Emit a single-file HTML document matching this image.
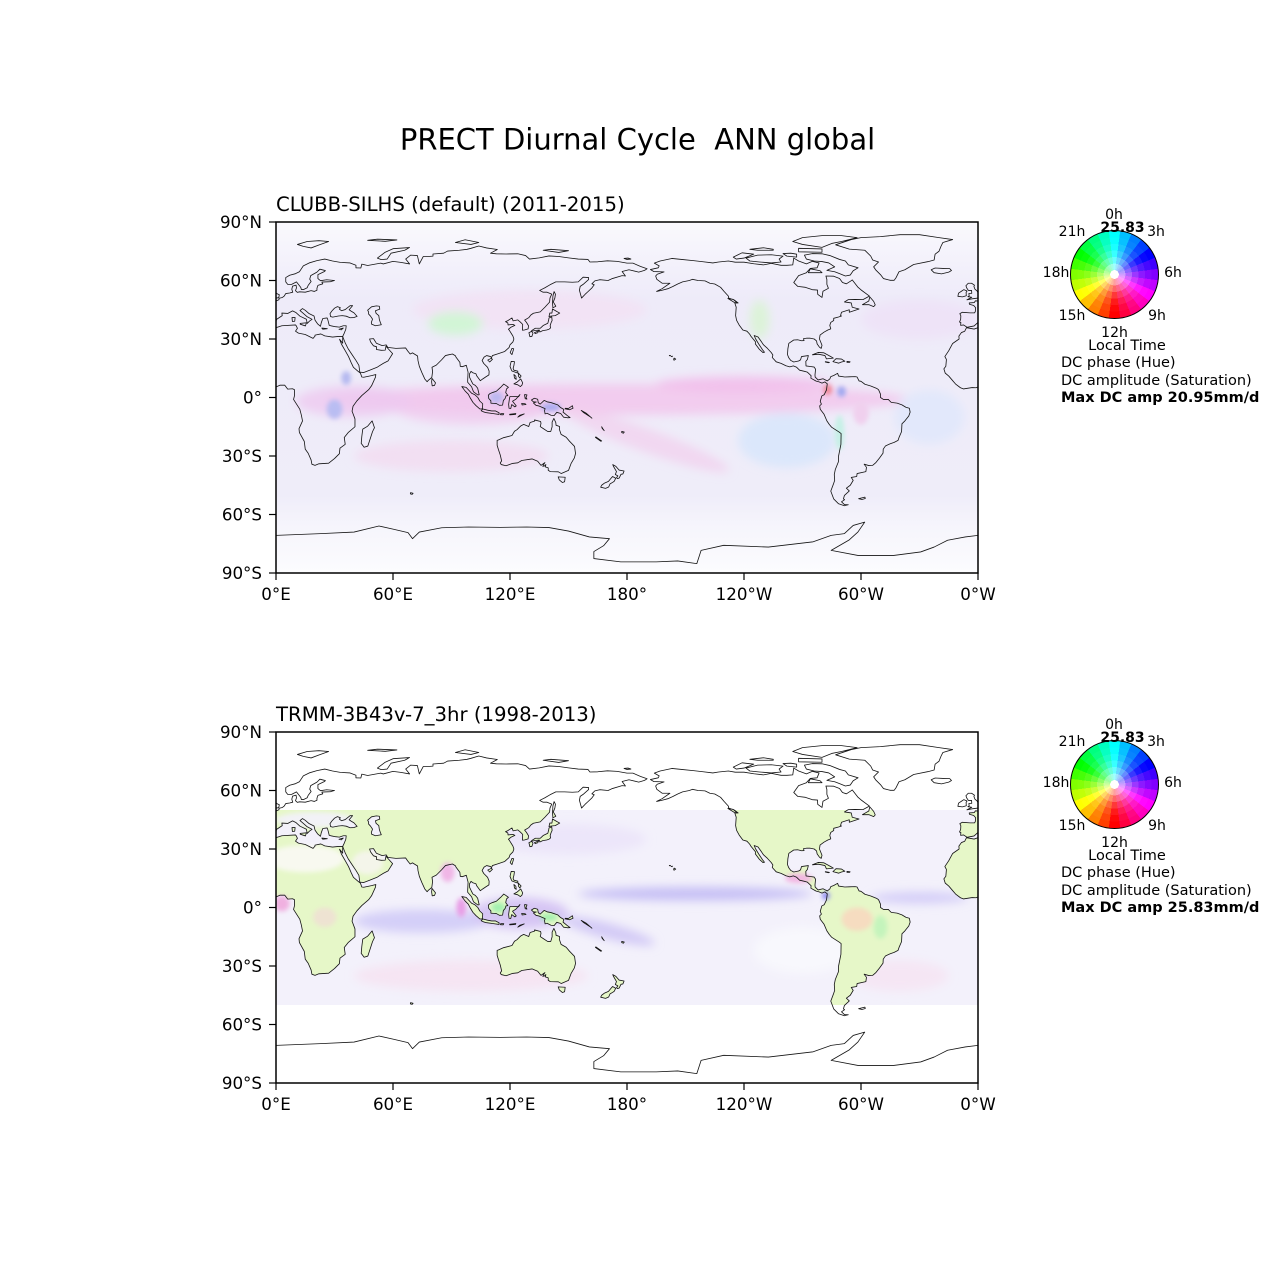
<!DOCTYPE html>
<html><head><meta charset="utf-8">
<style>
html,body{margin:0;padding:0;background:#fff;}
#wrap{position:relative;width:1275px;height:1275px;overflow:hidden;background:#fff;}
svg text{font-family:"DejaVu Sans","Liberation Sans",sans-serif;fill:#000;}
.wheel{position:absolute;width:89px;height:89px;border-radius:50%;box-sizing:border-box;border:1.5px solid #000;
background:radial-gradient(closest-side,rgba(255,255,255,1) 0 10%,rgba(255,255,255,0.62) 10% 25%,rgba(255,255,255,0.4) 25% 40%,rgba(255,255,255,0.22) 40% 55%,rgba(255,255,255,0.1) 55% 70%,rgba(255,255,255,0.03) 70% 85%,rgba(255,255,255,0) 85%),
conic-gradient(from -7.5deg,hsl(180,100%,50%) 0 15deg,hsl(195,100%,50%) 15deg 30deg,hsl(210,100%,50%) 30deg 45deg,hsl(225,100%,50%) 45deg 60deg,hsl(240,100%,50%) 60deg 75deg,hsl(255,100%,50%) 75deg 90deg,hsl(270,100%,50%) 90deg 105deg,hsl(285,100%,50%) 105deg 120deg,hsl(300,100%,50%) 120deg 135deg,hsl(315,100%,50%) 135deg 150deg,hsl(330,100%,50%) 150deg 165deg,hsl(345,100%,50%) 165deg 180deg,hsl(0,100%,50%) 180deg 195deg,hsl(15,100%,50%) 195deg 210deg,hsl(30,100%,50%) 210deg 225deg,hsl(45,100%,50%) 225deg 240deg,hsl(60,100%,50%) 240deg 255deg,hsl(75,100%,50%) 255deg 270deg,hsl(90,100%,50%) 270deg 285deg,hsl(105,100%,50%) 285deg 300deg,hsl(120,100%,50%) 300deg 315deg,hsl(135,100%,50%) 315deg 330deg,hsl(150,100%,50%) 330deg 345deg,hsl(165,100%,50%) 345deg 360deg);}
.dot{position:absolute;width:6px;height:6px;border-radius:50%;background:#fff;}
</style></head><body><div id="wrap">
<svg width="1275" height="1275" viewBox="0 0 1275 1275" xmlns="http://www.w3.org/2000/svg" style="position:absolute;left:0;top:0">
<defs>
<filter id="bl" x="-30%" y="-30%" width="160%" height="160%"><feGaussianBlur stdDeviation="2.5"/></filter>
<filter id="bl2" x="-30%" y="-30%" width="160%" height="160%"><feGaussianBlur stdDeviation="1.2"/></filter>
<linearGradient id="polar" x1="0" y1="0" x2="0" y2="1">
<stop offset="0" stop-color="#faf9fd"/><stop offset="0.12" stop-color="#f3f1fb"/><stop offset="0.22" stop-color="#eeebf9"/>
<stop offset="0.78" stop-color="#efedf9"/><stop offset="0.87" stop-color="#f6f5fc"/><stop offset="1" stop-color="#fcfcfe"/>
</linearGradient>
<clipPath id="band"><rect x="0" y="40" width="360" height="100"/></clipPath>
<g id="land">
<path fill-rule="evenodd" d="M -5.6,36 L -2,36.7 0,38.5 0.2,40 3.2,42 3,43.3 6,43.1 8.5,44.4 10.3,43.5 12.3,41.7 15.6,40.1 16,38 17.2,39.2 18.5,40.1 16,41.4 13.6,43.5 12.3,44.6 13.6,45.6 15,44.7 17,43 19.5,41.8 20,39.7 21.3,37.8 22.8,36.5 23.2,38.3 24,40.5 26.2,40.8 26.5,40.1 26.8,39 27.3,37 28.5,36.7 30.5,36.3 32.5,36.1 34.5,36.8 36,36.8 35.8,35 35,33 34.2,31.3 34.9,29.5 35.5,28 37,25 39,22 41,19 42.5,16.5 43,13 45,12.8 48,14 52,15.6 55,17.5 57.5,18.8 59.8,22.5 58.8,23.6 56.4,26.3 56,24.3 54,24.2 51.5,24.6 51.6,26 50,26.5 48.5,28.5 48,30 50,30.2 51.5,27.8 54.5,26.6 56.5,27 57.3,25.7 61.5,25.2 66.5,25.4 67.5,23.9 68.8,22.3 70,22.9 72.6,21.3 72.8,19 73.5,16 74.8,12.8 76.3,9.5 77.5,8.1 78.2,8.9 79.9,10.3 80.3,13.3 80,15.5 82.2,16.6 84.9,19.3 86.9,21.5 88.5,21.9 90.5,22.3 92,21.4 92.3,20.7 94.3,18 94.5,16 95.5,15.8 97.6,16.5 98.5,13 98.3,9 98.3,7.8 100.3,5.5 101.3,2.9 103.5,1.3 104.2,1.4 103.4,4.8 102.2,6.2 101,6.9 100.2,8.4 99.3,10.3 99.2,12 100,13.4 100.9,12.7 102.5,12.2 103,11 104.8,8.6 106,9.5 107.5,10.5 109.2,11.6 109.3,13.5 108.5,15.5 106.5,17.5 105.7,19 106.7,20.7 108,21.5 110,21 110.5,20.4 111,21.5 113.5,22.3 115,22.8 117.3,23.6 119.5,25.6 120,27 121.5,28.5 122,30 121.5,31.5 121,32.3 119.7,34.4 119.2,35 120.6,36.1 122.5,37 121.5,37.5 119,37.2 118.9,38.2 117.7,38.9 118.5,39.2 121,40.8 121.6,39.3 124,39.8 125.3,38.7 126.5,37.5 126.4,34.5 127.4,34.6 129.3,35.2 129.5,36.8 128.4,38.6 127.5,39.7 129.7,41 130.7,42.3 132,43.2 135.5,43.9 138,46.4 140.3,48.9 140.5,51 141.4,53 139,54 137,54 135.2,54.9 137.8,56.2 140.5,57.8 143.5,59.3 148,59.3 152,59.1 155,59.3 157.5,61.7 160.3,61.5 160.3,60.5 157.5,58 156,57 155.6,55 156.7,51 158.5,52.9 160,54.3 162,56.2 163.2,57.8 162,58.3 163.5,59.8 166,60.4 170.3,60 172.5,61 177.5,62.5 179.2,62.3 177.5,64.6 181,65.5 186,64.3 189,65.2 190.3,66 187,67.2 183,68.9 180,68.9 175,69.8 170,70.1 165,69.6 161,69.5 160,70.8 155,71 150,71.6 145,72.3 140,72.6 135,71.6 130,71 128,72.8 124,73.7 118,73.6 113,73.7 110,74 113.5,75.9 108,76.7 104,77.7 100,76.5 98,76 94,75.5 88,75.1 86,74 80.5,73.6 80.5,72.5 78,72.3 75.5,72.3 73.5,68.5 72.5,72.8 69,73 66.5,71 68.5,68.5 64,69.3 60,69.8 55,68.5 53.7,68.9 47,67.7 44,68.4 43.5,66.4 41,66.5 41,67.8 38,69 33,69.3 29,70 25,71 21,70.2 17,69 14,67.5 13,66 12,64.5 10,63.5 7,62.7 5,61.5 5,59.3 6,58 8,58 10.5,59.3 11.5,58 12.7,56.5 13,55.4 14.2,55.4 16,56.3 16.5,57.5 18,59.5 17.3,60.7 17.8,62.5 21,64.3 22.5,65.8 25.3,65.1 25,64.7 21.5,63 21.5,61 22.8,59.9 26,60.4 30,60 28,59.4 23.5,59.2 24,58.3 21.5,57.5 21,56 21,55 19.7,54.4 18,54.8 15,54 12,54.2 11,53.9 10,54.8 10.5,56.2 10.3,57.6 8.5,57.1 8.1,55.5 8.6,54 7,53.6 5,53.3 4.2,52 3.3,51.3 1.6,50.9 1.5,50.1 0,49.5 -1.3,49.6 -1.9,48.7 -4.5,48.5 -4.4,47.8 -2.2,47.2 -1.2,46 -1.4,44 -1.8,43.4 -4,43.4 -8,43.7 -9.3,43 -8.8,41.9 -8.9,40 -9.5,38.7 -8.8,38.5 -8.9,37 -7.4,37.2 -6.2,36.4 Z
M 28,41.5 L 27.7,43 28.6,44.3 30,45.8 31.5,46.6 33,46 32.5,45.3 33.6,44.5 35.5,45.1 38,47.1 39.3,47.1 37.5,45 38.5,44.3 40,43.4 41.6,41.6 40,41 38,40.9 36,41.7 34,42 32,41.8 29.1,41.2 Z
M 47,44.8 L 49,46.5 51.5,47 53,46.8 53.2,45.3 51,44.5 51.3,43.2 52.7,42 53,40 53.5,38.5 54,37.3 51,36.8 49,37.6 48.9,38.5 49.5,40.2 48.5,41.7 47.5,42.8 47.5,43.8 Z"/>
<path d="M -5.9,35.8 L -2,35.1 3,36.8 10,37.2 10.3,36.9 11,35.5 10,34 11.5,33 15,32.3 19,30.3 20,31.5 20,32 23,32.6 25,31.6 29,31 32,31.3 34.2,31.3 34.2,27.8 32.6,29.9 33.6,27.3 35.5,24 37.2,21 38.5,18 39.7,15.5 42,13.5 43.3,12.5 44,10.5 45,10.4 49,11.2 51.2,11.8 51,10.4 49,6 47.5,4 44,1 41.5,-1.7 39.5,-4.5 39,-7 40.5,-11 40.5,-15 37,-18 35,-20.5 35.5,-24 32.8,-26 32.5,-28.8 30,-31.3 27,-33.7 22,-34 20,-34.8 18.4,-34.2 18,-32 16.5,-28.6 15,-26.5 14.5,-22.5 12,-18 11.8,-16 13.6,-12 13,-9 12.2,-6 9,-1 9.5,1 9.5,4 8.5,4.5 6,4.3 4.5,6.3 2,6.3 -1,5 -3,5.1 -7.5,4.4 -9,5 -11.5,6.9 -13.3,9 -15,11 -16.8,12.5 -17.5,14.7 -16.5,16 -16.2,19.5 -17,21 -15,24 -13,27.7 -9.7,30 -9.8,31.5 -8.5,33.3 -6.8,34 Z"/>
<path d="M -5.7,50.1 L -3,50.6 1.4,51.2 1.7,52.7 0.2,53.4 -0.4,54.5 -1.6,55.6 -2.1,57 -1.8,57.6 -3.3,58.6 -5,58.6 -6.2,57.3 -5.7,56 -4.9,54.9 -3.3,54.9 -3.2,53.4 -4.7,53.3 -4.5,52.1 -5.2,51.7 -3.2,51.4 Z
M -6,52.2 L -6.1,53.9 -5.6,54.6 -7.3,55.3 -8.5,54.5 -10,53.5 -10.3,51.9 -8,51.6 Z
M -22.5,64 L -24,65.5 -22,66.4 -18,66.2 -14.5,66.1 -13.6,65.1 -15,64.3 -18.7,63.4 Z
M 80,9.8 L 81.8,7.5 81.3,6.2 80.1,6 79.8,8 Z
M 49.3,-12 L 50.5,-15.5 49.5,-17.5 47.1,-24.9 45.2,-25.5 43.7,-23.5 44,-20 44.5,-16.2 47,-14.7 Z
M 12.4,38 L 15.6,38.3 15.1,36.7 12.4,37.6 Z M 8.2,41 L 9.8,41 9.6,39.1 8.4,39 Z M 23.5,35.6 L 26.3,35.3 24,35 Z M 32.3,35 L 34.5,35.6 33.5,34.7 Z
M 11,78.5 L 16,80 22,80.4 27,80 22,78.2 18,76.7 14,77.5 Z
M 52,71.5 L 56,74.5 60,76.3 68.5,76.9 66,75.5 59,74 57,71 54,70.7 Z
M 92,79.5 L 97,80.9 104,79.5 100,78.5 Z
M 47,80.6 L 52,81.2 62,80.8 56,80.1 Z
M 137,75.5 L 141,76 150,75.3 145,74.4 Z
M 178.5,71.3 L 180.5,71.5 182,71 180,70.8 Z
M 130.9,33.9 L 132.5,34.3 135,34.6 135.3,33.6 136.8,34.3 138.8,34.6 140,35 140.8,35.7 140.6,36.8 141,38.2 141.6,39.5 141.4,41.4 140,40.8 139.8,39.6 139.4,38.1 137,36.9 135.5,35.5 133,35.5 131.2,34.4 Z
M 129.7,33.2 L 131,33.9 131.8,33 131.2,31.3 130.2,31.2 Z
M 140,41.5 L 141.2,41.8 143.2,42 145.5,43.3 144,44.1 141.8,45.4 141.5,43.3 140.4,43.3 Z
M 132.5,33.2 L 134.7,34.2 134.2,33.2 133,32.8 Z
M 142,46 L 143.5,46.8 142.2,49 143,51 143.3,53 142.6,54.3 142,52 141.8,48.5 Z
M 120.1,23 L 121,25.2 121.9,25 121,22 Z
M 108.6,19.2 L 110.4,20.1 111,19.6 109.6,18.2 Z
M 120.6,18.5 L 122.3,18.4 122,16.4 121.6,15 122,14 124,13.5 124,12.5 121,13.6 120.6,14.4 120,16 Z
M 122,7 L 123.6,7.9 124.3,8.5 125.5,9.5 126.5,7.5 126.1,6.3 125.3,5.6 124,6.5 Z
M 124.3,12.5 L 125.7,11 125,10 124.3,11 Z
M 122,11.8 L 123,10.9 123.2,9.3 122.3,10 Z
M 108.9,1.2 L 109.7,2 111.2,2.6 113,3.2 114.5,4.6 115.5,5.5 116.8,6.9 117.7,6.3 119.2,5.2 118.2,4.4 117.8,2.5 118.9,1 117.9,0.8 117.5,-0.5 116.6,-1.5 116.2,-3.9 114.6,-4 113,-3.1 111.7,-3 110.2,-2.9 110.2,-1.7 109.1,-0.5 Z
M 95.3,5.6 L 97.5,5.2 100.3,2.2 102,1.4 103.5,0 104.5,-1.8 106,-3.2 105.9,-5.8 104.6,-5.9 102.6,-4.2 101,-2.5 99.6,-0.2 98.6,1.7 97,3.3 Z
M 105.2,-6.8 L 106.1,-5.9 108.5,-6.5 110.6,-6.9 112.6,-6.9 114.4,-7.8 114.4,-8.7 111,-8.2 108,-7.8 106.5,-7.4 Z
M 119.5,-5.5 L 120.4,-5.6 120.9,-3.6 122.5,-4.8 123.2,-4.3 121.3,-1.9 123,-0.9 125.1,1.5 124.4,0.4 121,0.5 120,0.5 119.8,-0.1 119.3,-3.5 Z
M 124,-10.1 L 125,-9.1 127.3,-8.4 125.1,-9.5 Z
M 119.8,-8.6 L 123,-8.2 122.8,-8.7 119.9,-8.9 Z
M 115.2,-8.3 L 116.8,-8.3 116.5,-8.9 115.1,-8.8 Z
M 127.5,1.5 L 128.7,1.3 128.2,0 128.7,-0.8 127.8,-0.6 127.5,1 Z
M 126,-3 L 127.8,-3.2 128.2,-3.6 126.2,-3.8 Z
M 131,-1.3 L 132.5,-0.4 134.2,-0.9 134.5,-2.7 135.5,-3.4 137.5,-1.5 139,-2.2 141,-2.6 144.5,-3.8 146,-5.2 147.6,-6.1 147.2,-7.5 149.3,-9.2 150.8,-10.3 149.5,-10.4 147.5,-10.1 146,-8.2 144,-7.6 142.6,-9.3 141,-9.1 139,-8.1 138,-8.4 137.7,-6.7 138,-5.7 135,-4.4 133.3,-4 132,-2.8 133.5,-2.3 132,-2.2 Z
M 148.3,-5.5 L 150,-5.6 152,-4.2 152.3,-5.5 150.5,-6.3 148.3,-5.8 Z
M 156.5,-6.6 L 159,-8 162,-10.6 161,-9.8 157.8,-7.8 Z
M 167,-15 L 167.8,-16.3 168.3,-17 167.3,-15.9 Z
M 177.3,-17.4 L 178.6,-17.7 178.2,-18.3 177.3,-18 Z
M 164,-20.2 L 167,-22.3 166.5,-22.4 163.8,-20.5 Z
M 69,-48.8 L 70.3,-49.1 69.8,-49.7 68.9,-49.4 Z
M 113.4,-22 L 114,-21.8 116.7,-20.6 121,-19.5 122.3,-17.3 123.6,-16.5 125.5,-14.6 127,-13.8 129.6,-14.9 130.3,-12.8 132.6,-12.1 132.6,-11.5 135.7,-12.3 135.9,-13.3 135.5,-14.9 137,-15.9 139.3,-17.4 140.9,-17.4 141.6,-15 141.6,-12.6 142.5,-10.7 143.5,-12.9 143.6,-14.2 145.4,-14.9 145.3,-16.3 146.2,-18.9 148.8,-20.4 150.5,-22.4 153.1,-25.1 153.6,-28.7 153,-31 151.3,-33.9 150,-37.4 146.3,-39 144.8,-38.1 140.6,-38 139.6,-37.3 139.6,-36.1 138.1,-35.6 138.4,-34.4 137.7,-35.1 136.8,-35.3 137.5,-34 137.9,-33.4 135.9,-34.8 134.2,-32.7 131.3,-31.5 126,-32.3 124,-33.5 121.3,-33.8 118,-35 115.5,-34.4 115,-33.6 115.7,-32.5 115,-29.5 114,-26.5 113.4,-24.5 Z
M 144.7,-40.7 L 148.3,-40.9 148,-43.2 146.9,-43.6 145.3,-42.3 Z
M 172.7,-34.4 L 174.3,-35.3 175.9,-37.2 178.5,-37.7 177.9,-39.2 176.9,-39.4 176,-41.3 175.2,-41.6 174.6,-41.2 175.3,-40.2 174,-39.5 174.6,-38 173,-35.2 Z
M 172.6,-40.5 L 174.2,-41.4 173.5,-42.9 172.7,-43.5 171.3,-44.3 170.6,-45.9 169,-46.6 166.5,-46 167,-45 168.3,-44 170.5,-43 171.5,-41.8 Z"/>
<path d="M -166,68.9 L -163,70 -157,71.3 -152,70.8 -146,70.2 -141,69.6 -136,69 -133,69.5 -128,70 -124.5,69.4 -120,69.4 -115,68.6 -110,68 -106,68.8 -101,67.8 -98,67.8 -95,68 -94.5,71.5 -92,70 -88,68.5 -85,69.8 -81.5,69 -82.5,66.5 -86,66.2 -88,64 -92,62.5 -94.5,59 -92.5,57 -88.5,56.5 -85,55.3 -82.3,55.1 -82.2,52.9 -80,51.3 -79.5,54.5 -76.7,56 -77.5,58 -77.5,60.5 -78,62.3 -74,62.2 -71,61 -69.5,59 -67.5,58.3 -65,59.9 -64.5,60.3 -61.5,56.5 -60,55.2 -57,53 -55.7,52 -59,50.2 -63,50.3 -66.5,50.2 -68.5,49 -65,48.5 -64.5,46.3 -61,45.4 -66,43.7 -66,45 -67,44.7 -70,43.7 -70.5,42 -70,41.8 -71.5,41.3 -74,40.6 -74,39.5 -75.5,38.5 -76,37 -75.5,35.2 -77,34.6 -79,33.5 -81,32 -81.3,30 -80,26.8 -80.4,25.2 -81.3,25.8 -82.5,27.5 -82.8,29 -84,30 -86,30.4 -88,30.4 -89.5,30.2 -89.2,29.2 -90.5,29.1 -92.5,29.6 -94.5,29.5 -97,27.8 -97.5,25 -97.7,22 -97,20.3 -96,19 -94.5,18.2 -92,18.7 -91,19.3 -90.5,21 -87,21.5 -87.5,19.5 -88.3,18.5 -88.2,16.2 -86,15.9 -84,15.6 -83.3,14.5 -83.6,11.5 -83.5,10.5 -82,9 -79.5,9.6 -77.3,8.5 -76,9.5 -75.5,10.7 -74,11.3 -72,12.4 -71.5,11 -68.3,10.5 -66,10.6 -63,10.7 -62,10.5 -61,8.5 -60,8.3 -58,6.8 -55,5.9 -52,4.7 -51,4 -50,1.7 -50,0 -48.5,-1 -46,-1 -44.5,-2.5 -41.5,-2.9 -39,-3.8 -37,-5 -35.2,-5.5 -34.8,-7.5 -35.5,-9.5 -37.5,-12 -39,-13.5 -39.2,-17.5 -40.5,-20.5 -41,-22 -43,-23 -45,-23.7 -47.5,-24.9 -48.6,-26.5 -48.7,-28.5 -50.5,-31 -52.5,-33.5 -54,-34.8 -56,-34.9 -58.4,-34.2 -57.2,-35.8 -57.5,-38 -62,-39 -62.2,-40.5 -65,-41 -64,-42.5 -65.5,-45 -67.5,-46.5 -66,-47.9 -68.5,-50.2 -69,-52 -68.4,-52.4 -70,-53.5 -68.5,-54.9 -66.5,-55 -68.5,-55.5 -71.5,-54.5 -74,-52 -75.5,-48 -74,-44 -73.5,-42.5 -73.7,-39.5 -73.2,-37 -71.6,-33 -71.5,-30 -70.3,-24 -70.2,-18.5 -71.4,-17.6 -75,-15.3 -76.2,-13.9 -77.5,-12 -79,-8.5 -80.9,-6 -81.2,-4.3 -80.3,-3.4 -80.9,-2 -80.1,0.8 -78.9,1.4 -77.7,3.9 -77.3,7 -78.5,8 -80,7.4 -81.5,8 -83,8.4 -85.7,9.9 -85.6,11.2 -87.5,13 -89.3,13.5 -91.5,14 -93,15.5 -94.7,16.2 -96.5,15.7 -98.5,16.3 -101,17.5 -103.5,18.3 -105.5,20.5 -105.2,21.8 -106,23 -108,25.2 -110,27 -111,28.5 -112.8,31 -114.8,31.8 -114,30 -112.5,27.5 -110.5,24.5 -109.5,23.2 -110.2,23 -112.2,24.8 -114.2,27.5 -114.1,28.5 -116.5,31.5 -117.1,32.5 -118.5,34 -120.6,34.6 -122.5,37.2 -123.8,39.6 -124.3,42 -124,46.3 -124.7,48.4 -123,48.5 -125,50 -127.9,51 -128,52 -130.3,54.5 -132,56.5 -135,58.2 -137.5,58.6 -140,59.8 -143.5,60 -146.5,60.6 -148,60 -151.5,59.3 -154,58.2 -156.5,56.9 -159,55.8 -162,55 -164.8,54.4 -162,55.8 -158,58.6 -162,58.6 -164.7,60.6 -165.3,62.3 -164.5,63.2 -161,64.4 -163,64.5 -166.3,64.6 -168,65.6 -164,66.5 -163.5,67.5 Z
M -73,78.3 L -66,76.1 -58,75.5 -55,72.5 -54,70.5 -51,69.5 -53.5,67 -52.5,65.5 -50,63 -48.5,61 -45,60.1 -43,60.1 -42,61.5 -40.5,64.5 -37.5,65.5 -33,68.2 -25.5,69.7 -22.5,70.5 -22,73.5 -20,75 -19,77.5 -18,79.5 -13,81 -20,82 -30,83.5 -40,83.5 -50,82.5 -60,82 -65,81 -71,79 Z
M -80,73.7 L -76,72.8 -71,70.8 -68,70 -66.5,68 -61.5,66.5 -64,65 -65.5,62.8 -68,62.3 -71,63.5 -73.5,64.5 -77.5,65.2 -73.5,67 -76.5,69 -80,69.7 -84,70 -88,71 -89,73 -85,73.8 Z
M -80,77 L -75,79 -70,80 -62,82 -70,83 -80,83 -90,82 -95,80 -90,78.5 Z
M -80,74.5 L -92,74.7 -92,76.5 -80,76.2 Z
M -100,72.5 L -106,73.2 -113,73 -119,71.5 -117,70 -112,69.5 -106,69 -101,69.5 -102,71 Z
M -120,71.5 L -115,73.5 -121,74.2 -125.5,72 -124,71 Z
M -80,64 L -87,64 -86,66 -81,65 Z
M -93,72 L -98,72.5 -100,73.8 -96,74 -93,73.5 Z
M -105,75.5 L -113,75.5 -117,76 -110,76.8 -105,76 Z
M -59.3,47.6 L -56,49.5 -55.5,51.6 -53.5,49.3 -52.7,47.5 -53.5,46.6 -56,47.6 Z
M -84.9,21.9 L -82,23.1 -79,22.9 -75.7,21.1 -74.2,20.2 -77.7,19.8 -78.5,21.5 -81.8,22.2 Z
M -74.4,18.4 L -72.8,19.9 -70,19.7 -68.3,18.6 -70,18.2 -71.4,17.6 Z
M -78.3,18.4 L -76.2,18 -76.8,17.8 -78.3,18.2 Z
M -67.2,18.5 L -65.6,18.3 -65.9,18 -67.2,18 Z
M -128.3,50.8 L -125.5,50.3 -123.4,48.4 -125,48.8 Z
M -155.9,19.1 L -155,19.7 -155.8,20.2 -156.1,19.7 Z M -157.3,21.1 L -156.7,21.2 -156.9,20.9 Z M -158.3,21.6 L -157.7,21.6 -157.9,21.3 Z
M -61.2,-51.9 L -58,-51.1 -57.8,-51.8 -59.5,-52.3 Z
M 0,-70.7 L 23,-69.8 40,-69 52.8,-65.9 60,-67.5 67.7,-69.3 70,-72.4 73.5,-69 85,-66.8 98.7,-66.4 115,-66.6 128.6,-66.4 140,-66.7 150,-68.5 160.7,-71.5 171,-72.4 168,-76 163,-79 163,-82.6 176.8,-84.3 195,-84.3 206,-83.8 215.8,-85.2 218,-78.4 229.6,-75.8 252.5,-76.7 275.5,-74 284.7,-70.7 291.5,-69.8 296,-65.6 301.9,-63.9 298.4,-69 294,-73 284.7,-78.4 298.4,-81 316.8,-81 330.6,-79.2 337.5,-76.7 344.4,-73.2 353.5,-71.5 360,-70.7 360,-90 0,-90 Z"/>
</g>
</defs>

<text x="637.5" y="149.5" font-size="29" text-anchor="middle" xml:space="preserve" style="white-space:pre">PRECT Diurnal Cycle  ANN global</text>

<!-- ============ TOP MAP ============ -->
<text x="276" y="211" font-size="19.7">CLUBB-SILHS (default) (2011-2015)</text>
<svg x="276" y="222" width="702" height="351" viewBox="0 0 360 180" overflow="hidden">
<rect width="360" height="180" fill="url(#polar)"/>
<g filter="url(#bl)">
<ellipse cx="130" cy="45" rx="60" ry="10" fill="#f4e0f3" opacity="0.7"/>
<ellipse cx="330" cy="50" rx="30" ry="10" fill="#eee0f6" opacity="0.7"/>
<ellipse cx="175" cy="91" rx="150" ry="8" fill="#f3c4ec" opacity="0.8"/>
<ellipse cx="100" cy="95" rx="40" ry="9" fill="#f1c8ee" opacity="0.7"/>
<ellipse cx="40" cy="92" rx="30" ry="8" fill="#edc9f0" opacity="0.8"/>
<ellipse cx="240" cy="83" rx="45" ry="4" fill="#f2bdeb" opacity="0.85"/>
<ellipse cx="190" cy="112" rx="45" ry="6" fill="#f2d0ee" opacity="0.75" transform="rotate(20 190 112)"/>
<ellipse cx="90" cy="120" rx="50" ry="8" fill="#f3d8f0" opacity="0.7"/>
<ellipse cx="262" cy="112" rx="25" ry="14" fill="#dbe7fb"/>
<ellipse cx="335" cy="100" rx="18" ry="14" fill="#e2e8fb"/>
<ellipse cx="92" cy="52" rx="14" ry="6" fill="#d2f5d6"/>
<ellipse cx="248" cy="50" rx="5" ry="10" fill="#dcf3d8"/>
</g>
<g filter="url(#bl2)">
<ellipse cx="30" cy="96" rx="4" ry="5" fill="#b9bdf2"/>
<ellipse cx="36" cy="80" rx="2.5" ry="3.5" fill="#b5b9f0"/>
<ellipse cx="113" cy="90" rx="3.5" ry="3" fill="#bcb8f0"/>
<ellipse cx="141" cy="95" rx="5" ry="2" fill="#a9aaf0"/>
<ellipse cx="283" cy="86" rx="2.2" ry="2.8" fill="#f08898"/>
<ellipse cx="290" cy="87" rx="2.2" ry="2.8" fill="#a0a8f0"/>
<ellipse cx="289" cy="108" rx="2.5" ry="9" fill="#c6f0e6"/>
<ellipse cx="300" cy="98" rx="4" ry="6" fill="#f0d0ee"/>
</g>
<g transform="matrix(1 0 0 -1 0 90)" fill="none" stroke="#151515" stroke-width="0.42" stroke-linejoin="round">
<use href="#land"/><use href="#land" x="360"/>
</g>
</svg>
<rect x="276" y="222" width="702" height="351" fill="none" stroke="#000" stroke-width="1.5"/>
<g stroke="#000" stroke-width="1.2">
<line x1="269" y1="222" x2="276" y2="222"/><line x1="269" y1="280.5" x2="276" y2="280.5"/><line x1="269" y1="339" x2="276" y2="339"/><line x1="269" y1="397.5" x2="276" y2="397.5"/><line x1="269" y1="456" x2="276" y2="456"/><line x1="269" y1="514.5" x2="276" y2="514.5"/><line x1="269" y1="573" x2="276" y2="573"/>
<line x1="276" y1="573" x2="276" y2="580"/><line x1="393" y1="573" x2="393" y2="580"/><line x1="510" y1="573" x2="510" y2="580"/><line x1="627" y1="573" x2="627" y2="580"/><line x1="744" y1="573" x2="744" y2="580"/><line x1="861" y1="573" x2="861" y2="580"/><line x1="978" y1="573" x2="978" y2="580"/>
</g>
<g font-size="16.7" text-anchor="end">
<text x="262" y="228">90°N</text><text x="262" y="286.5">60°N</text><text x="262" y="345">30°N</text><text x="262" y="403.5">0°</text><text x="262" y="462">30°S</text><text x="262" y="520.5">60°S</text><text x="262" y="579">90°S</text>
</g>
<g font-size="16.7" text-anchor="middle">
<text x="276" y="600">0°E</text><text x="393" y="600">60°E</text><text x="510" y="600">120°E</text><text x="627" y="600">180°</text><text x="744" y="600">120°W</text><text x="861" y="600">60°W</text><text x="978" y="600">0°W</text>
</g>

<g font-size="14">
<text x="1114" y="219" text-anchor="middle">0h</text>
<text x="1072" y="236" text-anchor="middle">21h</text>
<text x="1156" y="236" text-anchor="middle">3h</text>
<text x="1056" y="277" text-anchor="middle">18h</text>
<text x="1173" y="277" text-anchor="middle">6h</text>
<text x="1072" y="320" text-anchor="middle">15h</text>
<text x="1157" y="320" text-anchor="middle">9h</text>
<text x="1114.5" y="337" text-anchor="middle">12h</text>
</g>
<g font-size="14.5">
<text x="1127" y="350" text-anchor="middle">Local Time</text>
<text x="1061" y="367">DC phase (Hue)</text>
<text x="1061" y="385">DC amplitude (Saturation)</text>
<text x="1061" y="402" font-weight="bold">Max DC amp 20.95mm/d</text>
</g>

<!-- ============ BOTTOM MAP ============ -->
<text x="276" y="721" font-size="19.7">TRMM-3B43v-7_3hr (1998-2013)</text>
<svg x="276" y="732" width="702" height="351" viewBox="0 0 360 180" overflow="hidden">
<rect width="360" height="180" fill="#fff"/>
<g clip-path="url(#band)">
<rect x="0" y="40" width="360" height="100" fill="#f3f1fb"/>
<g filter="url(#bl)">
<ellipse cx="100" cy="125" rx="60" ry="8" fill="#f6e0f0" opacity="0.7"/>
<ellipse cx="320" cy="125" rx="25" ry="8" fill="#f6e0f0" opacity="0.6"/>
<ellipse cx="150" cy="55" rx="40" ry="8" fill="#ebe4fa" opacity="0.8"/>
<ellipse cx="215" cy="83" rx="60" ry="3.5" fill="#c6bff5"/>
<ellipse cx="75" cy="97" rx="35" ry="6" fill="#d4cff8"/>
<ellipse cx="125" cy="93" rx="25" ry="8" fill="#d6c5f4"/>
<ellipse cx="170" cy="102" rx="25" ry="4" fill="#d3caf6" transform="rotate(15 170 102)"/>
<ellipse cx="330" cy="85" rx="25" ry="3" fill="#d4cef8"/>
<ellipse cx="270" cy="112" rx="25" ry="12" fill="#f8f8fd"/>
</g>
<g transform="matrix(1 0 0 -1 0 90)" fill="#e6f7c8" stroke="none">
<use href="#land"/><use href="#land" x="360"/>
</g>
<g filter="url(#bl2)">
<ellipse cx="15" cy="65" rx="20" ry="7" fill="#f8f9f0"/>
<ellipse cx="47" cy="67" rx="8" ry="6" fill="#f4f5ea"/>
<ellipse cx="20" cy="45" rx="20" ry="4" fill="#f2f2f6"/>
<ellipse cx="25" cy="95" rx="6" ry="5" fill="#f4d6d8" opacity="0.6"/>
<ellipse cx="88" cy="72" rx="3.5" ry="5" fill="#f0b6e6"/>
<ellipse cx="95" cy="90" rx="2.5" ry="5" fill="#e89ee6"/>
<ellipse cx="3" cy="88" rx="4" ry="4" fill="#f0b0e0"/>
<ellipse cx="268" cy="75" rx="7" ry="2.5" fill="#f2b6e2"/>
<ellipse cx="282" cy="84" rx="2" ry="2" fill="#8a88f0"/>
<ellipse cx="114" cy="90" rx="3.5" ry="2.5" fill="#a0f0ae"/>
<ellipse cx="140" cy="95" rx="4.5" ry="1.8" fill="#a0f0ae"/>
<ellipse cx="298" cy="96" rx="8" ry="6" fill="#f6dcc0"/>
<ellipse cx="310" cy="100" rx="3.5" ry="6" fill="#c4f4bc"/>
</g>
</g>
<g transform="matrix(1 0 0 -1 0 90)" fill="none" stroke="#151515" stroke-width="0.42" stroke-linejoin="round">
<use href="#land"/><use href="#land" x="360"/>
</g>
</svg>
<rect x="276" y="732" width="702" height="351" fill="none" stroke="#000" stroke-width="1.5"/>
<g stroke="#000" stroke-width="1.2">
<line x1="269" y1="732" x2="276" y2="732"/><line x1="269" y1="790.5" x2="276" y2="790.5"/><line x1="269" y1="849" x2="276" y2="849"/><line x1="269" y1="907.5" x2="276" y2="907.5"/><line x1="269" y1="966" x2="276" y2="966"/><line x1="269" y1="1024.5" x2="276" y2="1024.5"/><line x1="269" y1="1083" x2="276" y2="1083"/>
<line x1="276" y1="1083" x2="276" y2="1090"/><line x1="393" y1="1083" x2="393" y2="1090"/><line x1="510" y1="1083" x2="510" y2="1090"/><line x1="627" y1="1083" x2="627" y2="1090"/><line x1="744" y1="1083" x2="744" y2="1090"/><line x1="861" y1="1083" x2="861" y2="1090"/><line x1="978" y1="1083" x2="978" y2="1090"/>
</g>
<g font-size="16.7" text-anchor="end">
<text x="262" y="738">90°N</text><text x="262" y="796.5">60°N</text><text x="262" y="855">30°N</text><text x="262" y="913.5">0°</text><text x="262" y="972">30°S</text><text x="262" y="1030.5">60°S</text><text x="262" y="1089">90°S</text>
</g>
<g font-size="16.7" text-anchor="middle">
<text x="276" y="1110">0°E</text><text x="393" y="1110">60°E</text><text x="510" y="1110">120°E</text><text x="627" y="1110">180°</text><text x="744" y="1110">120°W</text><text x="861" y="1110">60°W</text><text x="978" y="1110">0°W</text>
</g>

<g font-size="14">
<text x="1114" y="729" text-anchor="middle">0h</text>
<text x="1072" y="746" text-anchor="middle">21h</text>
<text x="1156" y="746" text-anchor="middle">3h</text>
<text x="1056" y="787" text-anchor="middle">18h</text>
<text x="1173" y="787" text-anchor="middle">6h</text>
<text x="1072" y="830" text-anchor="middle">15h</text>
<text x="1157" y="830" text-anchor="middle">9h</text>
<text x="1114.5" y="847" text-anchor="middle">12h</text>
</g>
<g font-size="14.5">
<text x="1127" y="860" text-anchor="middle">Local Time</text>
<text x="1061" y="877">DC phase (Hue)</text>
<text x="1061" y="895">DC amplitude (Saturation)</text>
<text x="1061" y="912" font-weight="bold">Max DC amp 25.83mm/d</text>
</g>
</svg>

<div class="wheel" style="left:1069.5px;top:229.5px"></div>
<div class="dot" style="left:1111px;top:271px"></div>
<div class="wheel" style="left:1069.5px;top:739.5px"></div>
<div class="dot" style="left:1111px;top:781px"></div>
<svg width="1275" height="1275" style="position:absolute;left:0;top:0;pointer-events:none" xmlns="http://www.w3.org/2000/svg">
<text x="1122.5" y="232" font-size="14" text-anchor="middle" font-weight="bold" style="font-family:'DejaVu Sans','Liberation Sans',sans-serif">25.83</text>
<text x="1122.5" y="742" font-size="14" text-anchor="middle" font-weight="bold" style="font-family:'DejaVu Sans','Liberation Sans',sans-serif">25.83</text>
</svg>
</div></body></html>
